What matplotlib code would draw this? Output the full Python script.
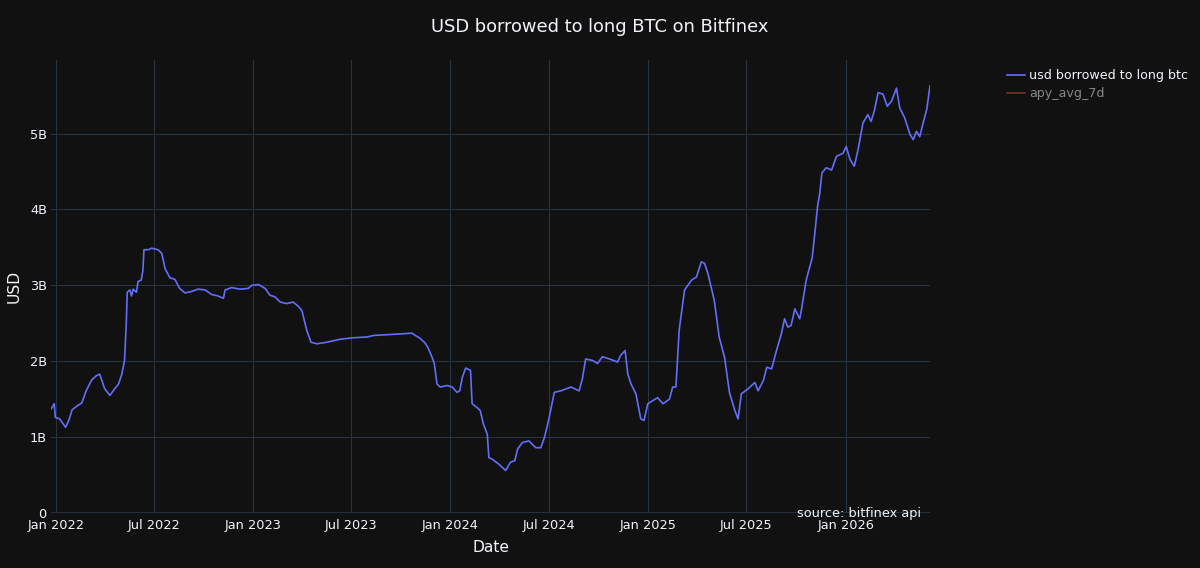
import matplotlib
matplotlib.use("Agg")
import matplotlib.pyplot as plt
from matplotlib.lines import Line2D
from matplotlib.ticker import FuncFormatter, MultipleLocator
import pandas as pd

dates = [
    "2021-12-23", "2021-12-29", "2021-12-31", "2022-01-08", "2022-01-19", "2022-01-25",
    "2022-01-31", "2022-02-11", "2022-02-18", "2022-02-26", "2022-03-08", "2022-03-17",
    "2022-03-23", "2022-03-27", "2022-04-01", "2022-04-11", "2022-04-20", "2022-04-27",
    "2022-05-03", "2022-05-08", "2022-05-11", "2022-05-13", "2022-05-18", "2022-05-21",
    "2022-05-24", "2022-05-30", "2022-06-02", "2022-06-08", "2022-06-11", "2022-06-13",
    "2022-06-21", "2022-06-27", "2022-07-09", "2022-07-16", "2022-07-22", "2022-07-31",
    "2022-08-09", "2022-08-18", "2022-08-28", "2022-09-09", "2022-09-21", "2022-10-04",
    "2022-10-16", "2022-10-28", "2022-11-07", "2022-11-10", "2022-11-22", "2022-12-08",
    "2022-12-23", "2022-12-29", "2023-01-11", "2023-01-23", "2023-02-01", "2023-02-10",
    "2023-02-20", "2023-03-04", "2023-03-16", "2023-03-26", "2023-04-01", "2023-04-10",
    "2023-04-18", "2023-04-29", "2023-05-17", "2023-06-11", "2023-07-06", "2023-07-31",
    "2023-08-12", "2023-09-06", "2023-09-30", "2023-10-22", "2023-10-28", "2023-11-06",
    "2023-11-15", "2023-11-21", "2023-11-28", "2023-12-02", "2023-12-07", "2023-12-13",
    "2023-12-26", "2024-01-04", "2024-01-13", "2024-01-18", "2024-01-23", "2024-01-29",
    "2024-02-07", "2024-02-10", "2024-02-19", "2024-02-25", "2024-03-02", "2024-03-09",
    "2024-03-12", "2024-03-18", "2024-03-31", "2024-04-12", "2024-04-21", "2024-04-29",
    "2024-05-04", "2024-05-13", "2024-05-25", "2024-06-07", "2024-06-16", "2024-06-23",
    "2024-07-01", "2024-07-11", "2024-07-23", "2024-08-11", "2024-08-26", "2024-09-01",
    "2024-09-07", "2024-09-20", "2024-09-29", "2024-10-08", "2024-10-21", "2024-11-05",
    "2024-11-11", "2024-11-19", "2024-11-24", "2024-11-30", "2024-12-09", "2024-12-18",
    "2024-12-24", "2024-12-31", "2025-01-09", "2025-01-18", "2025-01-28", "2025-02-09",
    "2025-02-15", "2025-02-21", "2025-02-27", "2025-03-09", "2025-03-22", "2025-03-31",
    "2025-04-09", "2025-04-15", "2025-04-21", "2025-05-03", "2025-05-12", "2025-05-22",
    "2025-05-31", "2025-06-10", "2025-06-16", "2025-06-22", "2025-07-05", "2025-07-17",
    "2025-07-23", "2025-08-02", "2025-08-08", "2025-08-17", "2025-08-26", "2025-09-04",
    "2025-09-10", "2025-09-16", "2025-09-22", "2025-09-29", "2025-10-08", "2025-10-11",
    "2025-10-20", "2025-10-31", "2025-11-05", "2025-11-10", "2025-11-14", "2025-11-18",
    "2025-11-26", "2025-12-06", "2025-12-15", "2025-12-27", "2026-01-02", "2026-01-09",
    "2026-01-17", "2026-01-24", "2026-02-02", "2026-02-11", "2026-02-17", "2026-02-23",
    "2026-03-02", "2026-03-11", "2026-03-19", "2026-03-27", "2026-04-05", "2026-04-11",
    "2026-04-20", "2026-04-30", "2026-05-06", "2026-05-12", "2026-05-18", "2026-05-25",
    "2026-05-31", "2026-06-06",
]

usd_borrowed_billions = [
    1.37, 1.44, 1.26, 1.24, 1.13, 1.22,
    1.36, 1.42, 1.45, 1.61, 1.75, 1.81,
    1.83, 1.75, 1.64, 1.55, 1.64, 1.70,
    1.83, 2.01, 2.45, 2.91, 2.94, 2.86,
    2.95, 2.91, 3.05, 3.07, 3.20, 3.47,
    3.47, 3.49, 3.47, 3.42, 3.22, 3.10,
    3.08, 2.96, 2.90, 2.92, 2.95, 2.94,
    2.88, 2.86, 2.83, 2.94, 2.97, 2.95,
    2.96, 3.00, 3.01, 2.96, 2.87, 2.85,
    2.78, 2.76, 2.78, 2.72, 2.67, 2.41,
    2.25, 2.23, 2.25, 2.29, 2.31, 2.32,
    2.34, 2.35, 2.36, 2.37, 2.34, 2.30,
    2.24, 2.17, 2.05, 1.97, 1.70, 1.66,
    1.68, 1.66, 1.59, 1.61, 1.79, 1.91,
    1.88, 1.44, 1.39, 1.35, 1.17, 1.04,
    0.73, 0.71, 0.64, 0.56, 0.67, 0.69,
    0.84, 0.93, 0.95, 0.86, 0.86, 1.00,
    1.24, 1.59, 1.61, 1.66, 1.61, 1.77,
    2.03, 2.01, 1.97, 2.06, 2.03, 1.99,
    2.08, 2.14, 1.83, 1.70, 1.57, 1.24,
    1.22, 1.44, 1.48, 1.52, 1.44, 1.50,
    1.66, 1.66, 2.41, 2.94, 3.07, 3.11,
    3.31, 3.29, 3.16, 2.80, 2.32, 2.05,
    1.59, 1.35, 1.24, 1.57, 1.64, 1.72,
    1.61, 1.75, 1.92, 1.90, 2.14, 2.36,
    2.56, 2.45, 2.47, 2.69, 2.56, 2.67,
    3.07, 3.36, 3.69, 4.04, 4.21, 4.48,
    4.55, 4.52, 4.70, 4.74, 4.83, 4.66,
    4.57, 4.79, 5.14, 5.25, 5.16, 5.30,
    5.54, 5.52, 5.36, 5.43, 5.60, 5.34,
    5.21, 4.99, 4.92, 5.03, 4.96, 5.16,
    5.32, 5.63,
]

series_names = ["usd borrowed to long btc", "apy_avg_7d"]
tick_dates = ["2022-01-01", "2022-07-01", "2023-01-01", "2023-07-01", "2024-01-01",
              "2024-07-01", "2025-01-01", "2025-07-01", "2026-01-01"]
tick_labels = ["Jan 2022", "Jul 2022", "Jan 2023", "Jul 2023", "Jan 2024",
               "Jul 2024", "Jan 2025", "Jul 2025", "Jan 2026"]

BG = "#111111"
GRID = "#283442"
FG = "#f2f5fa"
LINE = "#636efa"
APY = "#EF553B"

plt.rcParams["font.family"] = ["DejaVu Sans"]

W, H = 1200, 568
fig = plt.figure(figsize=(W / 100, H / 100), dpi=100, facecolor=BG)
ax = fig.add_axes([51 / W, (H - 513) / H, (930 - 51) / W, (513 - 60) / H])
ax.set_facecolor(BG)

x = pd.to_datetime(dates)
y = [v * 1e9 for v in usd_borrowed_billions]
ax.plot(x, y, color=LINE, lw=1.2, zorder=3)

ax.set_xlim(x.min(), x.max())
ax.set_ylim(0, 5.97e9)

ax.yaxis.set_major_locator(MultipleLocator(1e9))
ax.yaxis.set_major_formatter(FuncFormatter(lambda v, p: "0" if abs(v) < 1 else f"{v/1e9:.0f}B"))
ax.set_xticks(pd.to_datetime(tick_dates))
ax.set_xticklabels(tick_labels)

ax.grid(True, color=GRID, lw=0.8, zorder=0)
ax.axhline(0, color=GRID, lw=2, zorder=2)
for s in ax.spines.values():
    s.set_visible(False)
ax.tick_params(axis="both", length=0, colors=FG, labelsize=9.3)
ax.tick_params(axis="y", pad=3)
ax.tick_params(axis="x", pad=4)

ax.set_xlabel("Date", color=FG, fontsize=11.2, labelpad=6)
ax.set_ylabel("USD", color=FG, fontsize=11.2, labelpad=6)

fig.text(600 / W, 1 - 27 / H, "USD borrowed to long BTC on Bitfinex", color=FG,
         fontsize=12.9, ha="center", va="center")

ax.text(0.9898, 0.0, "source: bitfinex api", transform=ax.transAxes, color=FG,
        fontsize=9.3, ha="right", va="center", zorder=5)

# legend
fig.add_artist(Line2D([1007 / W, 1025 / W], [1 - 75 / H, 1 - 75 / H], color=LINE, lw=1.2))
fig.text(1029 / W, 1 - 75 / H, series_names[0], color=FG, fontsize=9.1, va="center", ha="left")
fig.add_artist(Line2D([1007 / W, 1025 / W], [1 - 93 / H, 1 - 93 / H], color=APY, lw=1.2, alpha=0.45))
fig.text(1029 / W, 1 - 93 / H, series_names[1], color="#888888", fontsize=9.1, va="center", ha="left")

fig.savefig("out.png", dpi=100, facecolor=BG)
